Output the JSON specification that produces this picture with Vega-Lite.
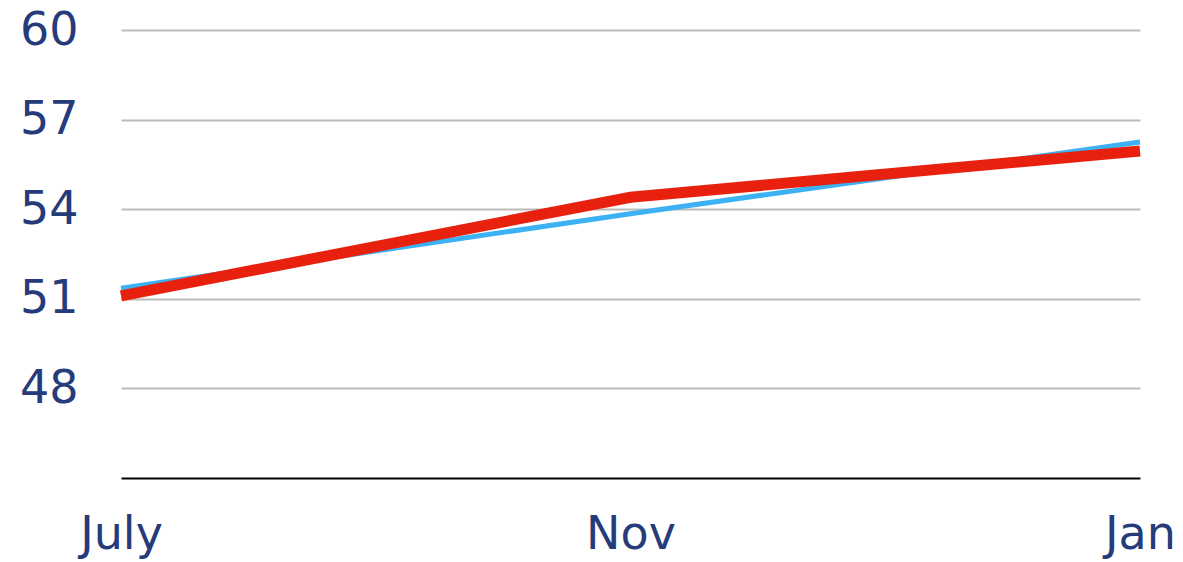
{
  "$schema": "https://vega.github.io/schema/vega-lite/v6.json",
  "width": 1019,
  "height": 448,
  "autosize": {"type": "none"},
  "padding": {"left": 121, "top": 30, "right": 43, "bottom": 84},
  "background": "white",
  "config": {"view": {"stroke": null}},
  "data": {"values": [
    {"month": "July", "blue": 51.35, "red": 51.1},
    {"month": "Nov", "blue": 53.85, "red": 54.4},
    {"month": "Jan", "blue": 56.25, "red": 55.95}
  ]},
  "encoding": {
    "x": {
      "field": "month", "type": "ordinal", "sort": ["July", "Nov", "Jan"],
      "scale": {"type": "point", "padding": 0},
      "axis": {
        "title": null, "labelAngle": 0, "ticks": false, "grid": false,
        "domain": true, "domainColor": "#000000", "domainWidth": 2,
        "labelFont": "DejaVu Sans", "labelFontSize": 46, "labelColor": "#253b7a",
        "labelPadding": 34, "labelAlign": "center", "labelOverlap": false, "labelBound": false, "zindex": 1
      }
    }
  },
  "layer": [
    {
      "mark": {"type": "line", "color": "#3cb1f4", "strokeWidth": 5},
      "encoding": {
        "y": {
          "field": "blue", "type": "quantitative",
          "scale": {"domain": [45, 60], "nice": false, "zero": false},
          "axis": {
            "title": null, "values": [48, 51, 54, 57, 60], "ticks": false, "domain": false,
            "grid": true, "gridColor": "#bbbbbb", "gridWidth": 2,
            "labelFont": "DejaVu Sans", "labelFontSize": 46, "labelColor": "#253b7a",
            "labelPadding": 43, "labelAlign": "right", "labelBaseline": "middle"
          }
        }
      }
    },
    {
      "mark": {"type": "line", "color": "#e8210f", "strokeWidth": 11},
      "encoding": {
        "y": {"field": "red", "type": "quantitative"}
      }
    }
  ]
}
